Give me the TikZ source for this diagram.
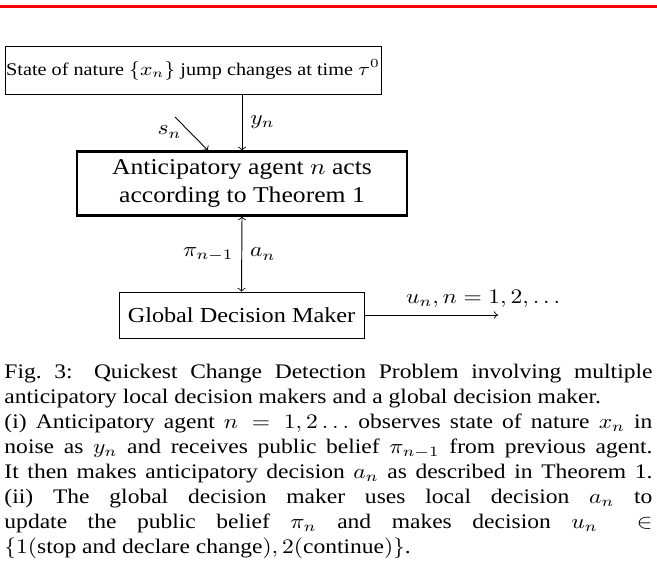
\documentclass[tikz,border=0pt]{standalone}
\usepackage{fontspec}
\setmainfont{Liberation Serif}
\usepackage{tikz}
\usetikzlibrary{calc,arrows,positioning}
\tikzstyle{block}=[draw,rectangle,inner sep=0pt,align=center,font=\fontsize{10}{12}\selectfont]
\tikzstyle{captext}=[inner sep=0pt,text width=275.4pt,align=justify,font=\fontsize{10}{12.1}\selectfont]
\definecolor{myred}{RGB}{255,0,0}

\begin{document}
\begin{tikzpicture}[x=0.483pt,y=-0.483pt,>=to]
\useasboundingbox (0,0) rectangle (657,576);
\draw[myred,line width=1pt] (0,6.5) -- (657,6.5);
% the screenshot is wider than it is tall, so stretch it sideways
\begin{scope}[x=0.425pt,transform canvas={xscale=1.1365}]
\draw (193, 70.25) node [block, font=\fontsize{8.6}{10}\selectfont, minimum width=159.8pt, minimum height=22.9pt] (nature) {State of nature $\{x_n\}$ jump changes at time $\tau^0$};
\draw (242, 183.5) node [block, font=\fontsize{10.9}{13.3}\selectfont, line width=1pt, minimum width=140pt, minimum height=30.9pt] (agent) {Anticipatory agent $n$ acts\\according to Theorem 1};
\draw (241.5, 315) node [block, font=\fontsize{10.3}{12}\selectfont, minimum width=104.1pt, minimum height=22.2pt] (gdm) {Global Decision Maker};
\coordinate (sn) at (175,117);
\coordinate (out) at (498,315);
\draw[->] (agent.north |- nature.south) -- (agent.north) node[midway,right] {$y_n$};
\draw[->] (sn) -- ([xshift=-14.45pt]agent.north) node[pos=0.45,left] {$s_n$};
\draw[<->] (agent.south) -- (gdm.north) node[midway,left] {$\pi_{n-1}$} node[midway,right] {$a_n$};
\draw[->] (gdm.east) -- (out) node[pos=0.25,above right] {$u_n, n=1,2,\dots$};
\node[captext, anchor=north west] (caption) at (4,363.5) {Fig.~3: Quickest Change Detection Problem involving multiple\linebreak
anticipatory local decision makers and a global decision maker.\newline
(i) Anticipatory agent $n=1,2\dots$ observes state of nature $x_n$ in\linebreak
noise as $y_n$ and receives public belief $\pi_{n-1}$ from previous agent.\linebreak
It then makes anticipatory decision $a_n$ as described in Theorem 1.\linebreak
(ii) The global decision maker uses local decision $a_n$ to\linebreak
update the public belief $\pi_n$ and makes decision $u_n \in$\linebreak
$\{1(\mbox{stop and declare change}),2(\mbox{continue})\}$.};
\end{scope}
\end{tikzpicture}
\end{document}
